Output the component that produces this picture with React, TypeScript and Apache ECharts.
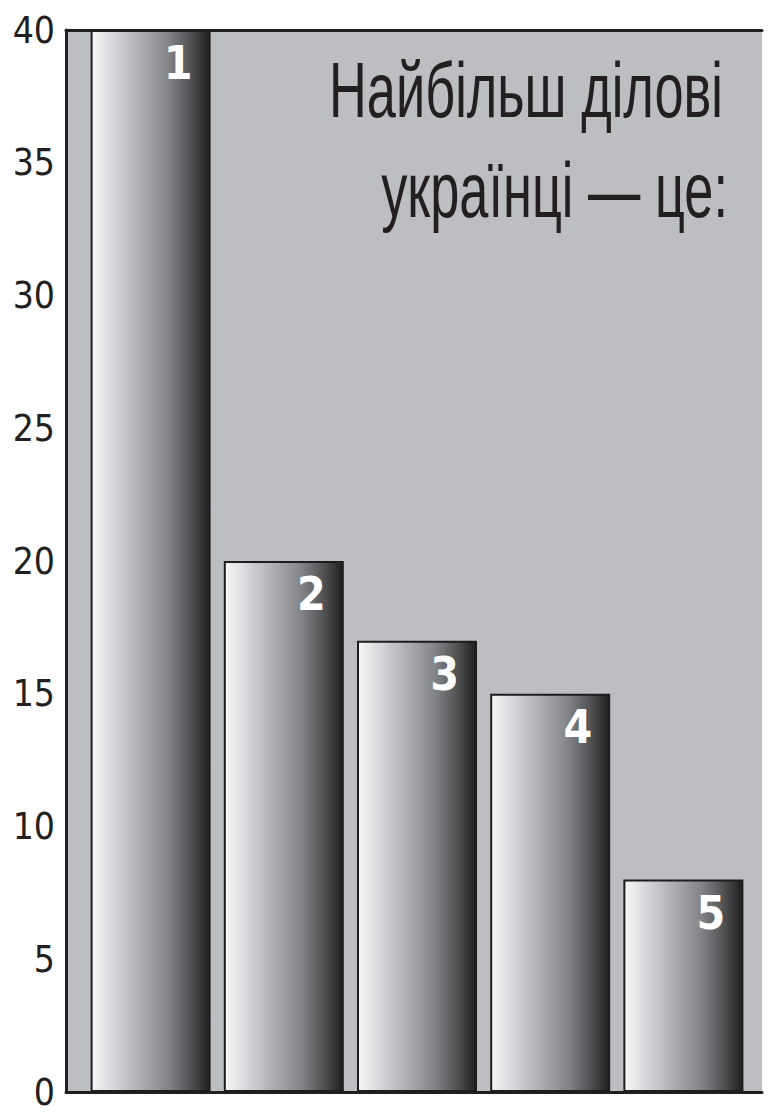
import React, { useEffect, useRef } from "react";
import * as echarts from "echarts";

const categories = ["1", "2", "3", "4", "5"];
const values = [40, 20, 17, 15, 8];
const titleLines = ["Найбільш ділові", "українці — це:"];

export default function App() {
  const ref = useRef<HTMLDivElement>(null);
  useEffect(() => {
    document.body.style.margin = "0";
    const chart = echarts.init(ref.current!, null, { renderer: "svg" });
    const frameLine = { show: true, onZero: false, lineStyle: { color: "#231f20", width: 3 } };
    const narrow = "'DejaVu Sans Condensed', 'Liberation Sans', sans-serif";
    chart.setOption({
      animation: false,
      grid: [
        { left: 66, right: 10, top: 30, bottom: 20, show: true, backgroundColor: "#bdbec2", borderWidth: 0 },
        { left: 84, width: 666, top: 30, bottom: 20 },
      ],
      xAxis: [
        { gridIndex: 0, type: "value", min: 0, max: 1, position: "bottom", axisLine: frameLine, axisTick: { show: false }, axisLabel: { show: false }, splitLine: { show: false } },
        { gridIndex: 0, type: "value", min: 0, max: 1, position: "top", axisLine: frameLine, axisTick: { show: false }, axisLabel: { show: false }, splitLine: { show: false } },
        { gridIndex: 1, type: "category", data: categories, show: false },
      ],
      yAxis: [
        {
          gridIndex: 0, type: "value", min: 0, max: 40, interval: 5,
          axisLine: frameLine, axisTick: { show: false }, splitLine: { show: false },
          axisLabel: { fontSize: 37, fontFamily: narrow, color: "#231f20", margin: 11 },
        },
        { gridIndex: 1, type: "value", min: 0, max: 40, interval: 5, show: false },
      ],
      graphic: [
        { type: "text", x: 723, y: 90, scaleX: 0.68, style: { text: titleLines[0], fontSize: 77, fontFamily: "'Liberation Sans', sans-serif", fill: "#231f20", align: "right", verticalAlign: "middle" } },
        { type: "text", x: 728, y: 190, scaleX: 0.68, style: { text: titleLines[1], fontSize: 77, fontFamily: "'Liberation Sans', sans-serif", fill: "#231f20", align: "right", verticalAlign: "middle" } },
      ],
      series: [
        {
          type: "bar", xAxisIndex: 2, yAxisIndex: 1, data: values, barWidth: 120,
          itemStyle: {
            borderColor: "#1d1d1e", borderWidth: 2,
            color: new echarts.graphic.LinearGradient(0, 0, 1, 0, [
              { offset: 0, color: "#f8f8f8" },
              { offset: 0.15, color: "#dcdde0" },
              { offset: 0.4, color: "#b0b1b4" },
              { offset: 0.65, color: "#838487" },
              { offset: 0.85, color: "#4e4f51" },
              { offset: 1, color: "#1f1f20" },
            ]),
          },
          label: {
            show: true, position: "insideTopRight", distance: 10, offset: [-8, 0],
            formatter: (p: any) => categories[p.dataIndex],
            fontSize: 46, fontWeight: "bold", fontFamily: narrow, color: "#ffffff",
          },
        },
      ],
    });
    return () => chart.dispose();
  }, []);
  return <div ref={ref} style={{ width: 772, height: 1112 }} />;
}
